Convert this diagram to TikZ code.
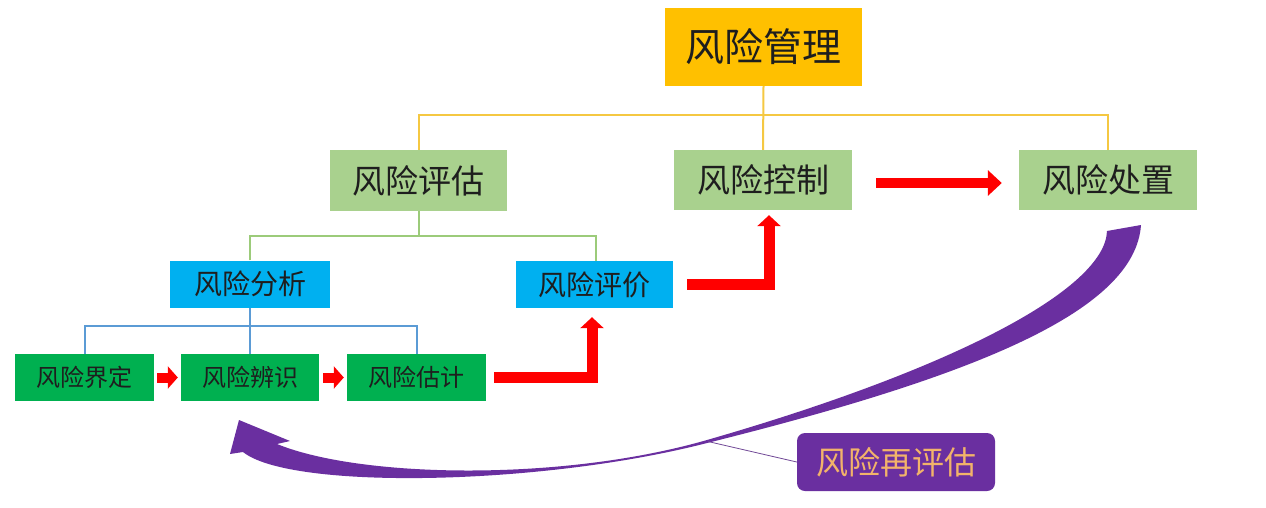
\documentclass[tikz,border=0pt]{standalone}
\usepackage{fontspec}
\newfontfamily\cjk{Noto Sans CJK SC}
\usetikzlibrary{arrows.meta,calc}
\definecolor{goldbox}{HTML}{FFC000}
\definecolor{goldline}{HTML}{F5C842}
\definecolor{lgreen}{HTML}{A9D18E}
\definecolor{lgreenline}{HTML}{9CCB7A}
\definecolor{cyanbox}{HTML}{00B0F0}
\definecolor{blueline}{HTML}{5B9BD5}
\definecolor{darkgreen}{HTML}{00B050}
\definecolor{purp}{HTML}{6A2FA0}
\definecolor{labeltext}{HTML}{F2B36A}
\definecolor{txt}{HTML}{1E1E1E}
\definecolor{redc}{HTML}{FF0000}
\begin{document}
\begin{tikzpicture}[x=1pt,y=-1pt,
  box/.style={inner sep=0pt, text=txt, font=\cjk},
  topbox/.style={box, fill=goldbox, minimum width=197pt, minimum height=78pt, font=\cjk\fontsize{39}{41}\selectfont},
  midbox/.style={box, fill=lgreen, minimum width=178pt, minimum height=60pt, font=\cjk\fontsize{33}{35}\selectfont},
  subbox/.style={box, fill=cyanbox, minimum height=47pt, font=\cjk\fontsize{28}{30}\selectfont},
  leafbox/.style={box, fill=darkgreen, minimum width=139pt, minimum height=47pt, font=\cjk\fontsize{24}{26}\selectfont},
  tree/.style={line width=2pt},
  redsmall/.style={draw=redc, line width=10pt, -{Triangle[width=22pt,length=10pt]}},
  redbent/.style={draw=redc, line width=11pt, -{Triangle[width=23pt,length=11pt]}},
  redlong/.style={draw=redc, line width=10pt, -{Triangle[width=25pt,length=14pt]}}
]
\useasboundingbox (0,0) rectangle (1266,507);
\fill[white] (0,0) rectangle (1266,507);

% nodes
\node[topbox] (mgmt) at (763.5,47) {风险管理};
\node[midbox, minimum width=177pt, minimum height=61pt] (assess) at (418.5,180.5) {风险评估};
\node[midbox] (control) at (763,180) {风险控制};
\node[midbox] (treat) at (1108,180) {风险处置};
\node[subbox, minimum width=160pt] (analysis) at (250,284) {风险分析};
\node[subbox, minimum width=157pt] (evaluate) at (594.5,284.5) {风险评价};
\node[leafbox] (define) at (84.5,377.5) {风险界定};
\node[leafbox, minimum width=138pt] (identify) at (250,377.5) {风险辨识};
\node[leafbox] (estimate) at (416.5,377.5) {风险估计};
\node[box, fill=purp, rounded corners=8pt, minimum width=198pt, minimum height=58pt, text=labeltext, font=\cjk\fontsize{32}{34}\selectfont] (reassess) at (896,462) {风险再评估};

% tree connectors
\coordinate (bus1) at (0,115);
\coordinate (bus2) at (0,236);
\coordinate (bus3) at (0,326);
\draw[tree, goldline] (mgmt.south) -- (control.north);
\draw[tree, goldline] (assess.north) -- (assess.north |- bus1) -| (treat.north);
\draw[tree, lgreenline] (assess.south) -- (assess.south |- bus2);
\draw[tree, lgreenline] (analysis.north) -- (analysis.north |- bus2) -| ($(evaluate.north)+(1.5,0)$);
\draw[tree, blueline] (analysis.south) -- (identify.north);
\draw[tree, blueline] (define.north) -- (define.north |- bus3) -| (estimate.north);

% red arrows
\draw[redsmall] ($(define.east)+(3,0)$) -- ($(identify.west)+(-3,0)$);
\draw[redsmall] ($(identify.east)+(4,0)$) -- ($(estimate.west)+(-3,0)$);
\draw[redbent] ($(estimate.east)+(8,0)$) -| ($(evaluate.south)+(-2.5,9)$);
\draw[redbent] ($(evaluate.east)+(14,0)$) -| ($(control.south)+(6,5)$);
\draw[redlong] ($(control.east)+(24,3)$) -- ($(treat.west)+(-17,3)$);

% purple curved arrow (tapered)
\fill[purp] (1141,225)
  .. controls (1135,310) and (980,375) .. (707,443)
  .. controls (540,486) and (290,490) .. (243,452)
  -- (230,454) -- (239,420) -- (290,441) -- (277,444)
  .. controls (360,478) and (561,482) .. (707,440)
  .. controls (950,370) and (1105,290) .. (1107,231)
  -- cycle;

% leader line to label
\coordinate (touch) at (708,441.5);
\draw[purp!70!gray, line width=0.8pt] (reassess.west) -- (touch);
\end{tikzpicture}
\end{document}
